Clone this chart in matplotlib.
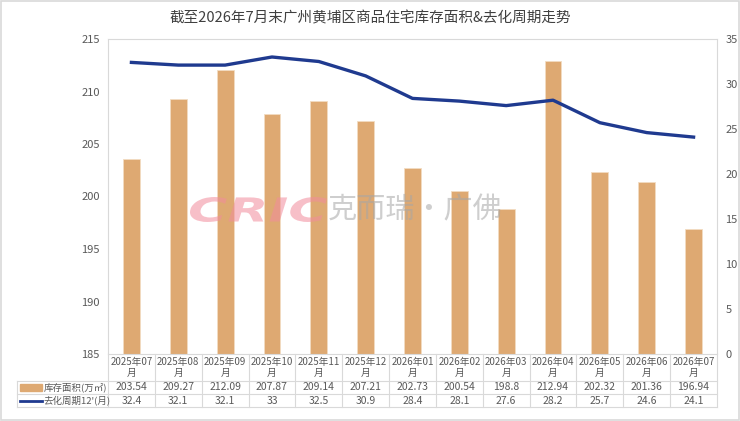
import matplotlib
matplotlib.use('Agg')
import matplotlib.pyplot as plt
from matplotlib import transforms
from matplotlib.lines import Line2D
from matplotlib.patches import Rectangle, PathPatch
from matplotlib.textpath import TextPath
from matplotlib.font_manager import FontProperties

plt.rcParams['font.family'] = ['Noto Sans CJK SC', 'DejaVu Sans']

# 数据
months = ['2025年07', '2025年08', '2025年09', '2025年10', '2025年11', '2025年12',
          '2026年01', '2026年02', '2026年03', '2026年04', '2026年05', '2026年06', '2026年07']
stock = [203.54, 209.27, 212.09, 207.87, 209.14, 207.21, 202.73, 200.54, 198.8,
         212.94, 202.32, 201.36, 196.94]
cycle = [32.4, 32.1, 32.1, 33, 32.5, 30.9, 28.4, 28.1, 27.6, 28.2, 25.7, 24.6, 24.1]
stock_name = '库存面积(万㎡)'
cycle_name = "去化周期12'(月)"

W, H = 740, 421
bar_color = '#DEA972'
line_color = '#1F3A8F'
grid_color = '#D9D9D9'
text_color = '#595959'


def fx(px):
    return px / W


def fy(py):
    return 1 - py / H


fig = plt.figure(figsize=(W / 100, H / 100), dpi=100)
fig.patch.set_facecolor('white')
fig.add_artist(Rectangle((0.001, 0.002), 0.997, 0.995, transform=fig.transFigure,
                         fill=False, edgecolor=grid_color, linewidth=1.2))

left, right, top, bottom = 108, 717, 39, 354
ax = fig.add_axes([fx(left), fy(bottom), fx(right) - fx(left), fy(top) - fy(bottom)])
x = list(range(len(months)))

ax.bar(x, stock, width=0.36, color=bar_color, edgecolor='#F2DCC2', linewidth=0.6, zorder=2)
ax.set_xlim(-0.5, len(months) - 0.5)
ax.set_ylim(185, 215)
ax.set_yticks(range(185, 216, 5))
ax.set_xticks([])
ax.tick_params(axis='y', length=0, labelsize=8, labelcolor=text_color, pad=6)
for s in ax.spines.values():
    s.set_color(grid_color)
    s.set_linewidth(0.8)

ax2 = ax.twinx()
ax2.plot(x, cycle, color=line_color, linewidth=2.4, zorder=3)
ax2.set_ylim(0, 35)
ax2.set_yticks(range(0, 36, 5))
ax2.tick_params(axis='y', length=0, labelsize=8, labelcolor=text_color, pad=6)
for s in ax2.spines.values():
    s.set_visible(False)

# 标题
fig.text(0.5, fy(18), '截至2026年7月末广州黄埔区商品住宅库存面积&去化周期走势',
         ha='center', va='center', fontsize=10.5, color='#404040')

# 水印: 拉宽的 CRIC + 克而瑞·广佛
tp = TextPath((0, 0), 'CRIC', size=34,
              prop=FontProperties(family='DejaVu Sans', weight='bold', style='italic'))
bb = tp.get_extents()
sx = 137 / bb.width
sy = 25 / bb.height
wm_tr = transforms.Affine2D().translate(-bb.x0, -bb.y0).scale(sx, sy).translate(190, H - 222)
fig.add_artist(PathPatch(tp, transform=wm_tr, facecolor='#F28C9C', edgecolor='none',
                         alpha=0.55, zorder=10))
fig.text(fx(415), fy(210), '克而瑞·广佛', ha='center', va='center', fontsize=21,
         color='#A6A6A6', alpha=0.55, zorder=10)

# 数据表
blend = transforms.blended_transform_factory(ax.transData, fig.transFigure)
t_left = 17
row_y = [bottom, 381, 394, 407]
for yy in row_y[1:]:
    fig.add_artist(Line2D([fx(t_left), fx(right)], [fy(yy), fy(yy)],
                          transform=fig.transFigure, color=grid_color, linewidth=0.8))
fig.add_artist(Line2D([fx(t_left), fx(t_left)], [fy(row_y[1]), fy(row_y[3])],
                      transform=fig.transFigure, color=grid_color, linewidth=0.8))
for i in range(len(months) + 1):
    fig.add_artist(Line2D([i - 0.5, i - 0.5], [fy(bottom), fy(row_y[3])],
                          transform=blend, color=grid_color, linewidth=0.8))

for i, m in enumerate(months):
    fig.text(i, fy(367.5), m + '\n月', transform=blend, ha='center', va='center',
             fontsize=7, color=text_color, linespacing=1.1)
    fig.text(i, fy(387.5), '{:g}'.format(stock[i]), transform=blend, ha='center',
             va='center', fontsize=7.5, color=text_color)
    fig.text(i, fy(400.5), '{:g}'.format(cycle[i]), transform=blend, ha='center',
             va='center', fontsize=7.5, color=text_color)

fig.add_artist(Rectangle((fx(20), fy(391)), fx(42) - fx(20), fy(384) - fy(391),
                         transform=fig.transFigure, color=bar_color))
fig.add_artist(Line2D([fx(20), fx(42)], [fy(400.5), fy(400.5)], transform=fig.transFigure,
                      color=line_color, linewidth=2))
fig.text(fx(44), fy(387.5), stock_name, ha='left', va='center', fontsize=6.8, color=text_color)
fig.text(fx(43), fy(400.5), cycle_name, ha='left', va='center', fontsize=6.8, color=text_color)

fig.savefig('out.png', dpi=100)
